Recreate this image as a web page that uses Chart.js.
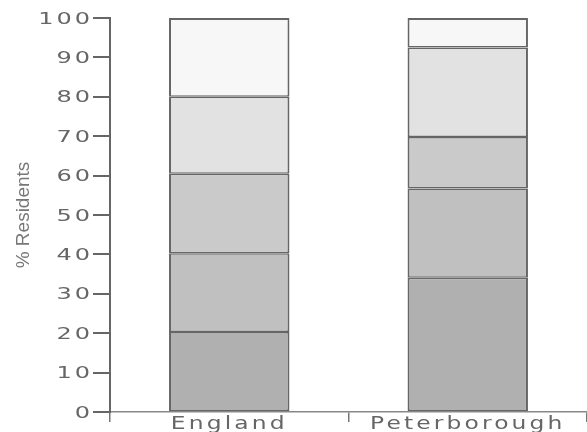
<!DOCTYPE html>
<html lang="en">
<head>
  <meta charset="UTF-8" />
  <title>% Residents - England vs Peterborough</title>
  <script src="https://cdn.jsdelivr.net/npm/chart.js"></script>
  <style>
    body {
      margin: 0;
      background: #ffffff;
    }
    #chart {
      display: block;
    }
  </style>
</head>
<body>
  <canvas id="chart" width="587" height="432"></canvas>

  <script>
    // values, bottom segment first
    const areas = ["England", "Peterborough"];
    const bandNames = ["Band 1", "Band 2", "Band 3", "Band 4", "Band 5"];
    const band1 = [20.3, 34.1];
    const band2 = [20.0, 22.6];
    const band3 = [20.2, 13.1];
    const band4 = [19.5, 22.7];
    const band5 = [20.0, 7.5];
    const yTicks = [0, 10, 20, 30, 40, 50, 60, 70, 80, 90, 100];

    const shades = ["#b0b0b0", "#c0c0c0", "#cacaca", "#e2e2e2", "#f7f7f7"];
    const edge = "#666666";

    const datasets = [band1, band2, band3, band4, band5].map((values, i) => ({
      label: bandNames[i],
      data: values,
      backgroundColor: shades[i],
      borderColor: edge,
      borderWidth: { left: 2, right: 2, top: i === 4 ? 2 : 1.5, bottom: 1.5 },
      borderSkipped: false,
      barPercentage: 0.505,
      categoryPercentage: 1
    }));

    // the original tick labels are wide, stretched and spaced out
    const labelLook = {
      x: { spacing: "2.4px", stretch: 1.3, dy: 0 },
      y: { spacing: "2px", stretch: 1.5, dy: 1.5 }
    };
    const stretchedLabels = {
      id: "stretchedLabels",
      beforeDraw(chart) {
        Object.keys(labelLook).forEach(id => {
          const scale = chart.scales[id];
          if (!scale || scale._stretched) return;
          const orig = scale.drawLabels;
          scale.drawLabels = function (area) {
            const ctx = this.ctx;
            const look = labelLook[id];
            const fill = ctx.fillText;
            ctx.save();
            ctx.letterSpacing = look.spacing;
            ctx.fillText = function (text, x, y) {
              ctx.save();
              ctx.translate(x, y + look.dy);
              ctx.scale(look.stretch, 1);
              fill.call(ctx, text, 0, 0);
              ctx.restore();
            };
            orig.call(this, area);
            ctx.fillText = fill;
            ctx.restore();
          };
          scale._stretched = true;
        });
      }
    };

    new Chart(document.getElementById("chart"), {
      type: "bar",
      data: { labels: areas, datasets: datasets },
      options: {
        responsive: false,
        animation: false,
        layout: { padding: { top: 18, right: 0, bottom: 0, left: 0 } },
        plugins: {
          legend: { display: false },
          tooltip: { enabled: false }
        },
        scales: {
          x: {
            stacked: true,
            afterFit: scale => { scale.height = 20; },
            grid: {
              drawOnChartArea: false,
              offset: true,
              tickLength: 10,
              tickColor: "#777777",
              lineWidth: 1.5
            },
            border: { display: true, color: "#888888", width: 1.5 },
            ticks: {
              color: "#666666",
              padding: -8,
              font: { family: "DejaVu Sans", size: 18 }
            }
          },
          y: {
            stacked: true,
            min: 0,
            max: 100,
            afterFit: scale => { scale.width = 110; },
            afterBuildTicks: scale => {
              scale.ticks = yTicks.map(v => ({ value: v }));
            },
            grid: {
              drawOnChartArea: false,
              tickLength: 17,
              tickColor: "#666666",
              lineWidth: 2
            },
            border: { display: true, color: "#666666", width: 2 },
            ticks: {
              color: "#666666",
              padding: 0,
              font: { family: "DejaVu Sans", size: 16 }
            },
            title: {
              display: true,
              text: "% Residents",
              color: "#777777",
              padding: { top: 12 },
              font: { family: "Liberation Sans", size: 19 }
            }
          }
        }
      },
      plugins: [stretchedLabels]
    });
  </script>
</body>
</html>
